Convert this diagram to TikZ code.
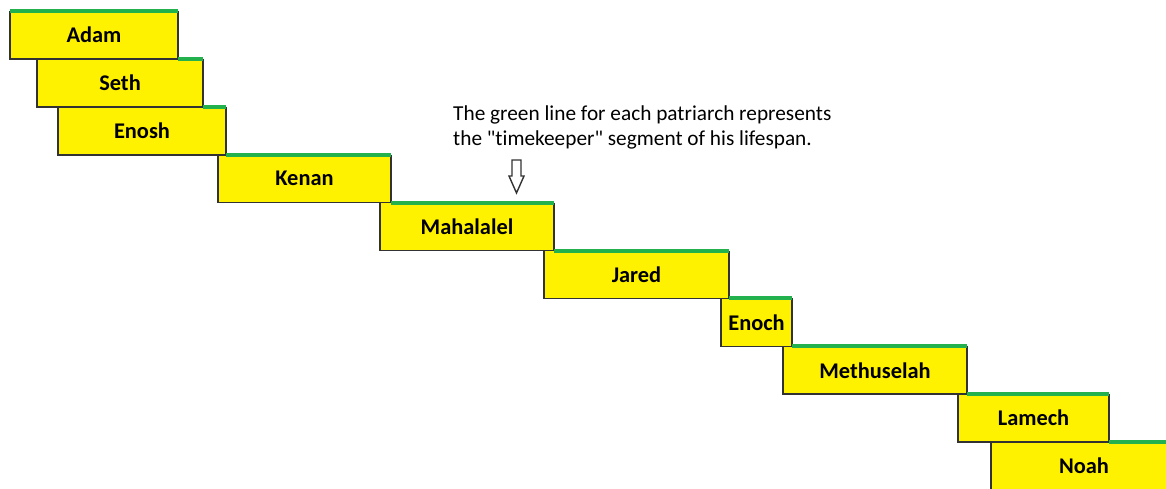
\documentclass[tikz,border=0pt]{standalone}
\usepackage{fontspec}
\setmainfont{Carlito}[Ligatures={TeXOff,NoCommon}]
\usetikzlibrary{positioning}

\definecolor{keepergreen}{RGB}{34,177,76}
\definecolor{edgegray}{RGB}{50,50,50}

\tikzset{
  patriarch/.style={fill=yellow, inner sep=0pt, outer sep=0pt,
    minimum height=47.9pt, font=\fontsize{22.4}{26}\selectfont\bfseries},
  outline/.style={draw=edgegray, line width=1.6pt},
  keeper/.style={draw=keepergreen, line width=4pt}
}

\begin{document}
\begin{tikzpicture}[x=1pt, y=-1pt]
\path[use as bounding box, clip] (0,0) rectangle (1166,488);

\node[patriarch, minimum width=168pt, anchor=north west] (adam) at (10,11) {Adam};
\node[patriarch, minimum width=166pt, below right=0pt and 27pt of adam.south west] (seth) {Seth};
\node[patriarch, minimum width=168pt, below right=0pt and 21pt of seth.south west] (enosh) {Enosh};
\node[patriarch, minimum width=173pt, below right=0pt and 160pt of enosh.south west] (kenan) {Kenan};
\node[patriarch, minimum width=174pt, below right=0pt and 162pt of kenan.south west] (mahalalel) {Mahalalel};
\node[patriarch, minimum width=185pt, below right=0pt and 164pt of mahalalel.south west] (jared) {Jared};
\node[patriarch, minimum width=71pt, below right=0pt and 177pt of jared.south west] (enoch) {Enoch};
\node[patriarch, minimum width=184pt, below right=0pt and 62pt of enoch.south west] (methuselah) {Methuselah};
\node[patriarch, minimum width=151pt, below right=0pt and 175pt of methuselah.south west] (lamech) {Lamech};
\node[patriarch, minimum width=186pt, below right=0pt and 33pt of lamech.south west] (noah) {Noah};

% dark outline on three sides of every box
\foreach \p in {adam,seth,enosh,kenan,mahalalel,jared,enoch,methuselah,lamech,noah}
  \draw[outline] (\p.north west) -- (\p.south west) -- (\p.south east) -- (\p.north east);

% green timekeeper segments
\draw[keeper] (adam.north west) -- (adam.north east);
\draw[keeper] (adam.south east) -- (seth.north east);
\draw[keeper] (seth.south east) -- (enosh.north east);
\draw[keeper] (enosh.south east) -- (kenan.north east);
\draw[keeper] (kenan.south east) -- (mahalalel.north east);
\draw[keeper] (mahalalel.south east) -- (jared.north east);
\draw[keeper] (jared.south east) -- (enoch.north east);
\draw[keeper] (enoch.south east) -- (methuselah.north east);
\draw[keeper] (methuselah.south east) -- (lamech.north east);
\draw[keeper] (lamech.south east) -- (noah.north east);

\node[anchor=north west, inner sep=0pt, align=left,
  font=\fontsize{21.3}{25}\selectfont] (note) at (453,106)
  {The green line for each patriarch represents\\the "timekeeper" segment of his lifespan.};

\coordinate (tip) at (516.5,193);
\draw[edgegray, line width=1.4pt, line join=miter]
  ([shift={(-4.5,-33)}]tip) -- ([shift={(4.5,-33)}]tip) -- ([shift={(4.5,-17)}]tip)
  -- ([shift={(7.5,-17)}]tip) -- (tip) -- ([shift={(-7.5,-17)}]tip)
  -- ([shift={(-4.5,-17)}]tip) -- cycle;
\end{tikzpicture}
\end{document}
